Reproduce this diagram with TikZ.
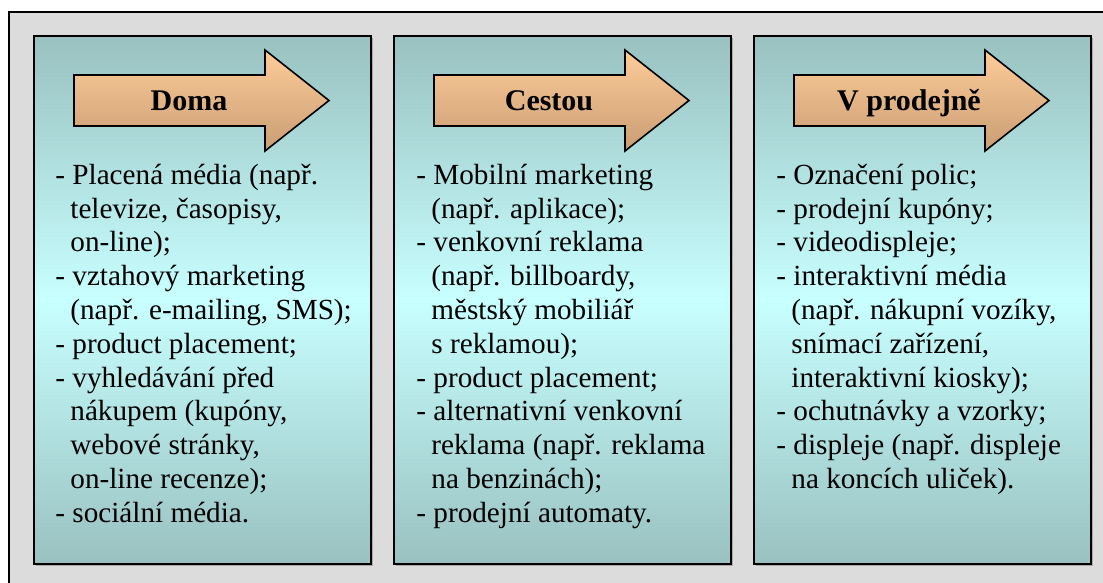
\documentclass[tikz,border=0pt]{standalone}
\usepackage{fontspec}
\setmainfont{Liberation Serif}
\usepackage{tikz}
\usetikzlibrary{positioning,shadows}
\definecolor{pozadi}{HTML}{DCDCDC}
\definecolor{tyrkys}{HTML}{99C1C0}
\definecolor{svetla}{HTML}{C8FFFF}
\definecolor{broskev}{HTML}{FDCC98}
\definecolor{hneda}{HTML}{C99D74}
\definecolor{stin}{HTML}{A8A8A8}
\tikzset{
  vnejsi/.style={draw=black,fill=pozadi,line width=0.8pt},
  ramecek/.style={draw=black,line width=1.1pt,rectangle,minimum width=168.5pt,minimum height=264pt,inner sep=0pt,
    top color=tyrkys,bottom color=tyrkys,middle color=svetla,
    drop shadow={shadow xshift=1.2pt,shadow yshift=-1.2pt,fill=stin,opacity=1}},
  sipka/.style={draw=black,line width=0.8pt,top color=broskev,bottom color=hneda},
  popisek/.style={font=\fontsize{15}{17}\selectfont\bfseries,inner sep=0pt,anchor=base},
  seznam/.style={font=\fontsize{14.6}{16.9}\selectfont,align=left,inner sep=0pt,anchor=north west},
}
\newcommand{\odsaz}{\hspace*{7.5pt}}

\begin{document}
\begin{tikzpicture}[x=0.5pt,y=-0.5pt]
\useasboundingbox (0,0) rectangle (1103,583);
\clip (0,0) rectangle (1103,583);
\fill[white] (0,0) rectangle (1103,583);
\draw[vnejsi] (9,12) rectangle (1130,610);
% tri panely
\node[ramecek] (doma) at (202.5,300) {};
\node[ramecek] (cestou) at (562.5,300) {};
\node[ramecek] (prodejna) at (922.5,300) {};
% sipky
\path[sipka] (74,75) -- (265,75) -- (265,50) -- (329,100.5) -- (265,151) -- (265,126) -- (74,126) -- cycle;
\path[sipka] (434,75) -- (625,75) -- (625,50) -- (689,100.5) -- (625,151) -- (625,126) -- (434,126) -- cycle;
\path[sipka] (794,75) -- (985,75) -- (985,50) -- (1049,100.5) -- (985,151) -- (985,126) -- (794,126) -- cycle;
\node[popisek] (tDoma) at (189,111) {Doma};
\node[popisek] (tCestou) at (549,111) {Cestou};
\node[popisek] (tProdejna) at (909,111) {V prodejně};
% seznamy
\node[seznam] (sDoma) at (55,160.3) {\strut- Placená média (např.\\
\odsaz televize, časopisy,\\
\odsaz on-line);\\
- vztahový marketing\\
\odsaz (např. e-mailing, SMS);\\
- product placement;\\
- vyhledávání před\\
\odsaz nákupem (kupóny,\\
\odsaz webové stránky,\\
\odsaz on-line recenze);\\
- sociální média.};
\node[seznam] (sCestou) at (416,160.3) {\strut- Mobilní marketing\\
\odsaz (např. aplikace);\\
- venkovní reklama\\
\odsaz (např. billboardy,\\
\odsaz městský mobiliář\\
\odsaz s reklamou);\\
- product placement;\\
- alternativní venkovní\\
\odsaz reklama (např. reklama\\
\odsaz na benzinách);\\
- prodejní automaty.};
\node[seznam] (sProdejna) at (776,160.3) {\strut- Označení polic;\\
- prodejní kupóny;\\
- videodispleje;\\
- interaktivní média\\
\odsaz (např. nákupní vozíky,\\
\odsaz snímací zařízení,\\
\odsaz interaktivní kiosky);\\
- ochutnávky a vzorky;\\
- displeje (např. displeje\\
\odsaz na koncích uliček).};
\end{tikzpicture}
\end{document}
